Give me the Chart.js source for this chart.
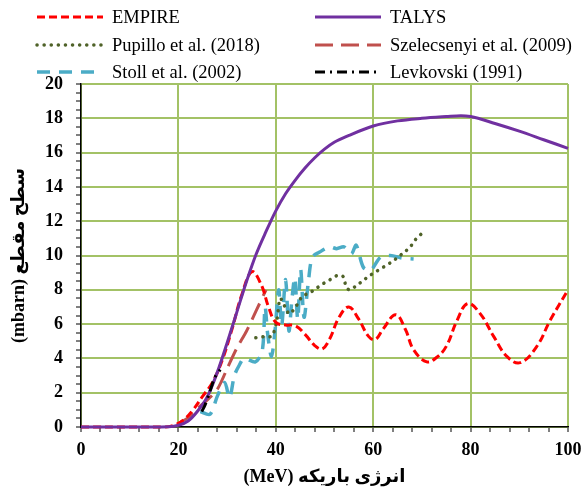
<!DOCTYPE html>
<html>
<head>
<meta charset="utf-8">
<script src="https://cdn.jsdelivr.net/npm/chart.js@4"></script>
<style>
  html, body { margin: 0; padding: 0; background: #fff; }
  #wrap { width: 584px; height: 489px; }
</style>
</head>
<body>
<div id="wrap"><canvas id="xsChart" width="584" height="489"></canvas></div>
<script>
// beam energy (MeV) / cross section (mbarn)
var empireE  = [0, 10, 17, 19, 21, 23, 25, 27, 29, 31, 33, 35.1, 37, 38.5, 40, 42, 44, 46, 48, 49.5, 51, 53, 55, 57, 59, 60.4, 62, 64.6, 66.6, 68.3, 71, 73, 75, 77.2, 79.4, 82, 84.7, 87.5, 90.2, 93.6, 96.3, 100];
var empireXS = [0, 0, 0, 0.1, 0.4, 1.0, 1.8, 2.6, 3.9, 5.7, 7.7, 9.05, 8.3, 7.0, 6.1, 5.95, 5.9, 5.4, 4.75, 4.55, 5.1, 6.4, 7.0, 6.3, 5.3, 5.1, 5.7, 6.55, 5.7, 4.5, 3.8, 4.05, 4.7, 6.2, 7.2, 6.6, 5.3, 4.1, 3.75, 4.7, 6.2, 8.0];

var talysE  = [0, 10, 18, 20, 22, 24, 26, 28, 30, 32, 34, 36, 38, 40, 42, 44, 46, 48, 50, 52, 55, 60, 65, 70, 75, 78, 80, 85, 90, 95, 100];
var talysXS = [0, 0, 0.02, 0.1, 0.35, 0.95, 1.8, 3.2, 4.9, 6.7, 8.5, 10.1, 11.4, 12.6, 13.6, 14.4, 15.1, 15.7, 16.2, 16.6, 17.0, 17.55, 17.85, 18.0, 18.1, 18.15, 18.1, 17.7, 17.25, 16.75, 16.25];

var pupilloE  = [35.9, 37.6, 39.2, 40.2, 40.9, 41.9, 42.8, 44.3, 45.4, 47.1, 48.4, 49.8, 51.2, 52.8, 53.9, 54.4, 55.1, 56.7, 58, 59.4, 60.8, 62.2, 63.8, 65, 66.4, 67.6, 68.6, 69.8];
var pupilloXS = [5.2, 5.27, 5.3, 6.2, 7.5, 7.0, 6.6, 7.1, 7.6, 7.85, 8.1, 8.37, 8.6, 8.85, 8.75, 8.2, 8.0, 8.27, 8.56, 8.85, 9.1, 9.34, 9.63, 9.88, 10.2, 10.5, 10.9, 11.24];

var szeleE  = [20, 22, 24, 26, 28, 30, 32, 34, 36, 38];
var szeleXS = [0.2, 0.55, 1.1, 1.6, 2.2, 3.4, 4.6, 5.6, 6.8, 8.0];

var stollE  = [24.5, 26.5, 28, 29.5, 30.5, 31.5, 32.5, 33.5, 35.8, 37.2, 37.8, 38.3, 39.1, 39.8, 40.6, 41.2, 42, 42.7, 43.3, 43.9, 44.5, 45.1, 45.8, 46.7, 47.5, 49, 51, 52.5, 54, 55.5, 56.5, 58, 59.5, 61.5, 63.5, 66, 68.3];
var stollXS = [0.9, 0.75, 1.8, 2.6, 1.7, 3.0, 3.6, 4.0, 3.8, 4.4, 7.0, 5.5, 4.1, 5.5, 8.0, 5.9, 8.6, 5.6, 7.4, 8.7, 6.3, 9.2, 6.4, 8.5, 9.9, 10.2, 10.5, 10.4, 10.5, 10.1, 10.6, 9.3, 9.15, 9.9, 10.0, 9.85, 9.8];

var levkE  = [24.8, 25.5, 26.5, 27.5, 28.6];
var levkXS = [0.9, 1.3, 2.1, 2.9, 3.35];

function pts(e, s) {
    return e.map(function(v, i) { return { x: v, y: s[i] }; });
}

var serif = "'Liberation Serif', 'DejaVu Sans', serif";
var gridGreen = '#a3c266';

// legend in two columns, drawn on the canvas
var legendPlugin = {
    id: 'twoColLegend',
    afterDraw: function(chart) {
        var ctx = chart.ctx;
        var rows = [17, 45, 72];
        var lineX = [37, 315], textX = [112, 390];
        chart.data.datasets.forEach(function(ds, i) {
            var col = i % 2, y = rows[Math.floor(i / 2)];
            ctx.save();
            ctx.strokeStyle = ds.borderColor;
            ctx.lineWidth = ds.borderWidth;
            ctx.lineCap = ds.borderCapStyle || 'butt';
            ctx.setLineDash(ds.borderDash || []);
            ctx.beginPath();
            ctx.moveTo(lineX[col], y);
            ctx.lineTo(lineX[col] + 66, y);
            ctx.stroke();
            ctx.setLineDash([]);
            ctx.fillStyle = '#000';
            ctx.font = '18.5px ' + serif;
            ctx.textBaseline = 'middle';
            ctx.fillText(ds.label, textX[col], y + 1);
            ctx.restore();
        });
    }
};

new Chart(document.getElementById('xsChart'), {
    type: 'line',
    data: {
        datasets: [
            { label: 'EMPIRE', data: pts(empireE, empireXS), borderColor: '#ff0000', borderWidth: 3, borderDash: [8, 4], tension: 0.4, pointRadius: 0, order: 3, clip: 6 },
            { label: 'TALYS', data: pts(talysE, talysXS), borderColor: '#7030a0', borderWidth: 3, cubicInterpolationMode: 'monotone', pointRadius: 0, order: 2, clip: 6 },
            { label: 'Pupillo et al. (2018)', data: pts(pupilloE, pupilloXS), borderColor: '#4f6228', borderWidth: 3.5, borderDash: [0.1, 7], borderCapStyle: 'round', tension: 0.3, pointRadius: 0, order: 4 },
            { label: 'Szelecsenyi et al. (2009)', data: pts(szeleE, szeleXS), borderColor: '#c0504d', borderWidth: 3, borderDash: [18, 8], tension: 0.3, pointRadius: 0, order: 5 },
            { label: 'Stoll et al. (2002)', data: pts(stollE, stollXS), borderColor: '#4bacc6', borderWidth: 3.5, borderDash: [13, 9], tension: 0.3, pointRadius: 0, order: 6 },
            { label: 'Levkovski (1991)', data: pts(levkE, levkXS), borderColor: '#000000', borderWidth: 3, borderDash: [10, 5, 2, 5], tension: 0.3, pointRadius: 0, order: 1 }
        ]
    },
    options: {
        responsive: false,
        animation: false,
        layout: { padding: { left: 0, right: 16, top: 84, bottom: 0 } },
        plugins: { legend: { display: false }, tooltip: { enabled: false } },
        scales: {
            x: {
                type: 'linear', min: 0, max: 100,
                afterFit: function(s) { s.height = 62; s.paddingLeft = 0; s.paddingRight = 0; },
                ticks: {
                    stepSize: 4, autoSkip: false, maxRotation: 0, padding: 8, color: '#000',
                    font: { family: serif, size: 18, weight: 'bold' },
                    callback: function(v) { return v % 20 === 0 ? v : ''; }
                },
                grid: {
                    color: function(c) { return c.tick && c.tick.value % 20 === 0 ? gridGreen : 'transparent'; },
                    lineWidth: 2, tickColor: '#000', tickWidth: 1, tickLength: 5
                },
                border: { color: '#000', width: 1.5 },
                title: {
                    display: true, text: '(MeV) انرژی باریکه', color: '#000',
                    font: { family: serif, size: 18, weight: 'bold' },
                    padding: { top: 0, bottom: 1 }
                }
            },
            y: {
                min: 0, max: 20,
                afterFit: function(s) { s.width = 81; s.paddingTop = 0; s.paddingBottom = 0; },
                ticks: {
                    stepSize: 0.5, autoSkip: false, maxTicksLimit: 100, padding: 13, color: '#000',
                    font: { family: serif, size: 18, weight: 'bold' },
                    callback: function(v) { return v % 2 === 0 ? v : ''; }
                },
                grid: {
                    color: function(c) { return c.tick && c.tick.value % 2 === 0 ? gridGreen : 'transparent'; },
                    lineWidth: 2, tickColor: '#000', tickWidth: 1, tickLength: 5
                },
                border: { color: '#000', width: 1.5 },
                title: {
                    display: true, text: '(mbarn) سطح مقطع', color: '#000',
                    font: { family: serif, size: 18, weight: 'bold' },
                    padding: { top: 9, bottom: 0 }
                }
            }
        }
    },
    plugins: [legendPlugin]
});
</script>
</body>
</html>
